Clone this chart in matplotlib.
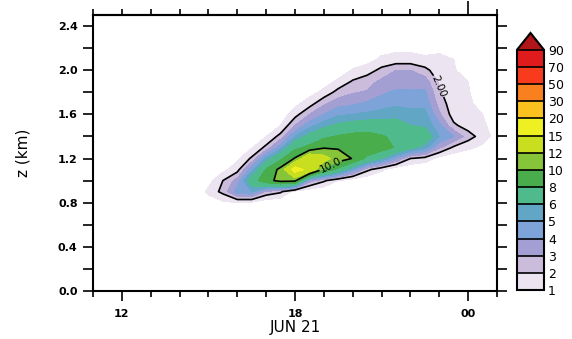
import numpy as np
import matplotlib
matplotlib.use("Agg")
import matplotlib.pyplot as plt
from matplotlib.colors import ListedColormap, BoundaryNorm

# ---- data ----
hours = [14.5, 15.0, 15.5, 16.0, 16.5, 17.0, 17.5, 18.0, 18.5, 19.0, 19.5,
         20.0, 20.5, 21.0, 21.5, 22.0, 22.5, 23.0, 23.5, 24.0, 24.5, 25.0]
heights = [0.6, 0.7, 0.8, 0.9, 1.0, 1.1, 1.2, 1.3, 1.4, 1.5, 1.6, 1.7,
           1.8, 1.9, 2.0, 2.1, 2.2, 2.3, 2.4]
# one profile per hour (values at each height)
profiles = [
    [0, 0, 0, 0, 0, 0, 0, 0, 0, 0, 0, 0, 0, 0, 0, 0, 0, 0, 0],
    [0, 0, 0.3, 1.3, 0.6, 0.1, 0, 0, 0, 0, 0, 0, 0, 0, 0, 0, 0, 0, 0],
    [0, 0, 0.8, 2.3, 2.0, 0.7, 0.2, 0, 0, 0, 0, 0, 0, 0, 0, 0, 0, 0, 0],
    [0, 0, 1.0, 4.5, 3.4, 1.6, 0.8, 0.3, 0, 0, 0, 0, 0, 0, 0, 0, 0, 0, 0],
    [0, 0.1, 0.8, 5.0, 7.0, 4.6, 2.2, 0.9, 0.3, 0, 0, 0, 0, 0, 0, 0, 0, 0, 0],
    [0, 0, 0.3, 2.8, 9.3, 8.2, 5.2, 2.3, 1.0, 0.4, 0, 0, 0, 0, 0, 0, 0, 0, 0],
    [0, 0, 0.2, 2.2, 10.6, 10.6, 7.6, 4.6, 2.4, 1.0, 0.4, 0, 0, 0, 0, 0, 0, 0, 0],
    [0, 0, 0, 0.5, 10.5, 16.5, 10.2, 7.5, 5.0, 3.0, 1.6, 0.7, 0.2, 0, 0, 0, 0, 0, 0],
    [0, 0, 0, 0.3, 3.5, 14.0, 14.5, 8.5, 6.5, 4.6, 3.0, 1.5, 0.6, 0.2, 0, 0, 0, 0, 0],
    [0, 0, 0, 0.1, 2.2, 9.5, 13.0, 9.8, 7.6, 5.6, 4.0, 2.8, 1.3, 0.5, 0.1, 0, 0, 0, 0],
    [0, 0, 0, 0, 1.0, 7.5, 11.0, 9.8, 8.2, 6.3, 4.8, 3.6, 2.4, 1.2, 0.4, 0.1, 0, 0, 0],
    [0, 0, 0, 0, 0.3, 4.8, 9.9, 9.8, 8.6, 6.6, 5.0, 3.8, 2.9, 2.1, 1.1, 0.4, 0, 0, 0],
    [0, 0, 0, 0, 0.1, 2.3, 7.5, 9.6, 8.8, 6.8, 5.2, 4.2, 3.1, 2.6, 1.5, 0.6, 0.1, 0, 0],
    [0, 0, 0, 0, 0, 1.2, 6.0, 9.0, 8.2, 6.6, 5.4, 4.5, 3.8, 3.2, 2.3, 1.2, 0.6, 0.1, 0],
    [0, 0, 0, 0, 0, 0.3, 4.0, 7.8, 7.6, 6.6, 5.6, 4.8, 4.2, 3.5, 3.0, 1.3, 0.8, 0.2, 0],
    [0, 0, 0, 0, 0, 0.1, 2.0, 6.5, 7.2, 6.0, 5.3, 4.7, 4.1, 3.6, 3.0, 1.3, 0.8, 0.2, 0],
    [0, 0, 0, 0, 0, 0, 1.6, 5.5, 7.0, 5.8, 5.3, 4.7, 4.2, 3.5, 2.3, 1.2, 0.6, 0.1, 0],
    [0, 0, 0, 0, 0, 0, 0.6, 3.2, 5.0, 4.3, 3.2, 2.6, 2.15, 1.8, 1.4, 1.2, 0.8, 0.2, 0],
    [0, 0, 0, 0, 0, 0, 0.3, 1.8, 4.0, 2.2, 1.5, 1.35, 1.3, 1.2, 1.1, 1.0, 0.5, 0, 0],
    [0, 0, 0, 0, 0, 0, 0.2, 1.2, 2.5, 1.5, 1.3, 1.2, 1.1, 1.0, 0.5, 0.1, 0, 0, 0],
    [0, 0, 0, 0, 0, 0, 0.1, 0.8, 1.5, 1.2, 1.0, 0.6, 0.3, 0.1, 0, 0, 0, 0, 0],
    [0, 0, 0, 0, 0, 0, 0, 0.2, 0.6, 0.5, 0.4, 0.3, 0.2, 0.1, 0, 0, 0, 0, 0],
]
levels = [1, 2, 3, 4, 5, 6, 8, 10, 12, 15, 20, 30, 50, 70, 90]
level_labels = ["1", "2", "3", "4", "5", "6", "8", "10", "12", "15", "20",
                "30", "50", "70", "90"]
line_levels = [2, 10]
xtick_pos = [12, 18, 24]
xtick_labels = ["12", "18", "00"]
ytick_pos = [0.0, 0.4, 0.8, 1.2, 1.6, 2.0, 2.4]
ytick_labels = ["0.0", "0.4", "0.8", "1.2", "1.6", "2.0", "2.4"]

colors = ["#ece4f0", "#cbbcdc", "#a49fd2", "#7ea3d9", "#62a6c6", "#4fbb8c",
          "#49ad4c", "#86c43a", "#c8de1e", "#eef021", "#fbc11f", "#f9801e",
          "#f83b1c", "#e01b1b"]
over_color = "#b0161a"

X, Y = np.meshgrid(hours, heights)
Z = np.array(profiles).T

cmap = ListedColormap(colors)
cmap.set_over(over_color)
norm = BoundaryNorm(levels, cmap.N)

fig = plt.figure(figsize=(5.72, 3.39), dpi=100)
ax = fig.add_axes([93 / 572, 48 / 339, 404 / 572, 276 / 339])

cf = ax.contourf(X, Y, Z, levels=levels, cmap=cmap, norm=norm, extend="max")
cs = ax.contour(X, Y, Z, levels=line_levels, colors="black", linewidths=1.2)
fmt = {2: "2.00", 10: "10.0"}
ax.clabel(cs, fmt=fmt, fontsize=7.5, inline=True,
          manual=[(22.9, 1.85), (19.3, 1.10)])

ax.set_xlim(11, 25)
ax.set_ylim(0, 2.5)
ax.set_xticks(xtick_pos)
ax.set_xticklabels(xtick_labels, fontsize=8, fontweight="bold")
ax.set_xticks(np.arange(11, 26, 1), minor=True)
ax.set_yticks(ytick_pos)
ax.set_yticklabels(ytick_labels, fontsize=8, fontweight="bold")
ax.set_yticks(np.arange(0, 2.5, 0.2), minor=True)
ax.tick_params(axis="x", which="major", direction="out", length=7, width=1.2,
               pad=6)
ax.tick_params(axis="x", which="minor", direction="out", length=4, width=1.2)
ax.tick_params(axis="y", which="both", direction="out", length=7, width=1.2,
               left=True, right=True, pad=4)
for s in ax.spines.values():
    s.set_linewidth(1.5)

top = ax.secondary_xaxis("top")
top.set_xticks([24])
top.set_xticklabels([])
top.set_xticks(np.arange(11, 26, 1), minor=True)
top.tick_params(which="major", direction="out", length=10, width=1.2)
top.tick_params(which="minor", direction="out", length=4, width=1.2)
top.spines["top"].set_linewidth(1.5)

ax.set_xlabel("JUN 21", fontsize=11, labelpad=1)
ax.set_ylabel("z (km)", fontsize=11, labelpad=20)

cax = fig.add_axes([517 / 572, 49 / 339, 27 / 572, 257 / 339])
cb = fig.colorbar(cf, cax=cax, ticks=levels, extend="max", extendfrac=0.07,
                  drawedges=True)
cb.set_ticklabels(level_labels)
cb.ax.tick_params(length=0, labelsize=9, pad=3)
cb.outline.set_linewidth(1.5)
cb.dividers.set_linewidth(1.2)

fig.savefig("out.png", dpi=100)
